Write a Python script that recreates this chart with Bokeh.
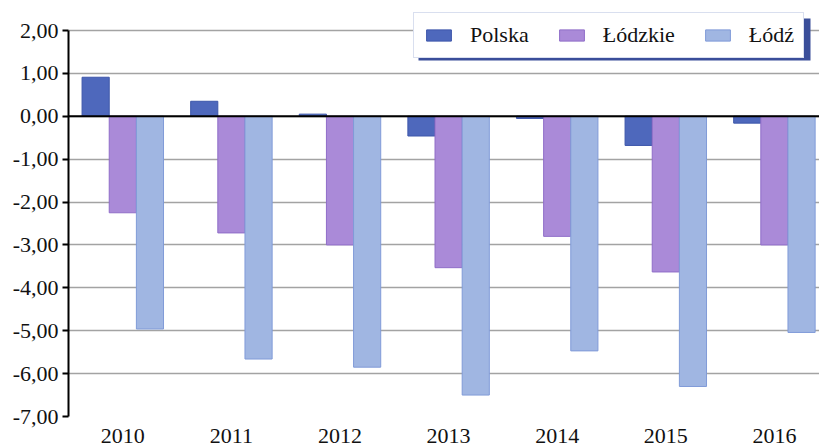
from bokeh.plotting import figure
from bokeh.models import (ColumnDataSource, Range1d, FixedTicker, Span, Legend,
                          LegendItem, BoxAnnotation)
from bokeh.transform import dodge
from bokeh.embed import file_html
from bokeh.resources import INLINE

years = ["2010", "2011", "2012", "2013", "2014", "2015", "2016"]
polska = [0.91, 0.35, 0.05, -0.46, -0.05, -0.68, -0.16]
lodzkie = [-2.25, -2.72, -3.00, -3.53, -2.80, -3.63, -3.00]
lodz = [-4.96, -5.66, -5.85, -6.50, -5.47, -6.30, -5.04]
series_names = ["Polska", "Łódzkie", "Łódź"]
y_ticks = [-7, -6, -5, -4, -3, -2, -1, 0, 1, 2]
y_tick_labels = ["-7,00", "-6,00", "-5,00", "-4,00", "-3,00", "-2,00", "-1,00",
                 "0,00", "1,00", "2,00"]

fills = ["#4E68BC", "#AA8AD8", "#A0B6E2"]
lines = ["#3D56AA", "#8F6DC8", "#809BD8"]

centers = [i + 0.5 for i in range(len(years))]
src = ColumnDataSource(dict(x=centers, polska=polska, lodzkie=lodzkie, lodz=lodz))

FONT = "Liberation Serif"
W, H = 819, 448
FL, FT, FB = 68, 8, 32
Y2PX = 30            # pixel row of the 2,00 line
FW, FH = W - FL, H - FT - FB
XU = 108.6
YU = (H - FB - Y2PX) / 9.0

p = figure(width=W, height=H, output_backend="svg", toolbar_location=None,
           x_range=Range1d(0, FW / XU), y_range=Range1d(-7, 2 + (Y2PX - FT) / YU),
           min_border_left=FL, min_border_right=0, min_border_top=FT,
           min_border_bottom=FB)
p.outline_line_color = None
p.background_fill_color = "white"
p.border_fill_color = "white"

p.xgrid.grid_line_color = None
p.ygrid.grid_line_color = "#A3A3A3"
p.ygrid.grid_line_width = 1.5

renderers = []
for k, (col, off) in enumerate(zip(["polska", "lodzkie", "lodz"], [-0.25, 0.0, 0.25])):
    r = p.vbar(x=dodge("x", off, range=p.x_range), top=col, bottom=0, width=0.25,
               source=src, fill_color=fills[k], line_color=lines[k], line_width=1)
    renderers.append(r)

p.add_layout(Span(location=0, dimension="width", line_color="black", line_width=2))

# y axis
p.yaxis.ticker = FixedTicker(ticks=y_ticks)
p.yaxis.bounds = (y_ticks[0], y_ticks[-1])
p.yaxis.major_label_overrides = {t: l for t, l in zip(y_ticks, y_tick_labels)}
p.yaxis.axis_line_color = "black"
p.yaxis.axis_line_width = 2
p.yaxis.major_tick_line_color = "black"
p.yaxis.major_tick_line_width = 2
p.yaxis.major_tick_out = 6
p.yaxis.major_tick_in = 0
p.yaxis.minor_tick_line_color = None
p.yaxis.major_label_standoff = 4
p.yaxis.major_label_text_font = FONT
p.yaxis.major_label_text_font_size = "22px"
p.yaxis.major_label_text_color = "#111111"

# x axis
p.xaxis.ticker = FixedTicker(ticks=centers)
p.xaxis.major_label_overrides = {c: y for c, y in zip(centers, years)}
p.xaxis.axis_line_color = None
p.xaxis.major_tick_line_color = None
p.xaxis.minor_tick_line_color = None
p.xaxis.major_label_standoff = 6
p.xaxis.major_label_text_font = FONT
p.xaxis.major_label_text_font_size = "22px"
p.xaxis.major_label_text_color = "#111111"

# legend shadow (screen px -> data)
sx = lambda px: (px - FL) / XU
sy = lambda py: 2 - (py - Y2PX) / YU
p.add_layout(BoxAnnotation(left=sx(418), right=sx(810), top=sy(18), bottom=sy(60),
                           fill_color="#3A4E9A", fill_alpha=1.0, line_color=None))

legend = Legend(items=[LegendItem(label=n, renderers=[r]) for n, r in zip(series_names, renderers)],
                orientation="horizontal", location=(345, FH - (58 - FT)),
                glyph_width=31, glyph_height=14, label_standoff=16, spacing=27,
                padding=9, margin=0,
                label_text_font=FONT, label_text_font_size="22px",
                label_text_color="#111111",
                border_line_color="#B4C0E0", border_line_width=1.5,
                background_fill_color="white", background_fill_alpha=1.0)
p.add_layout(legend, "center")

open("out.html", "w").write(file_html(p, INLINE))
